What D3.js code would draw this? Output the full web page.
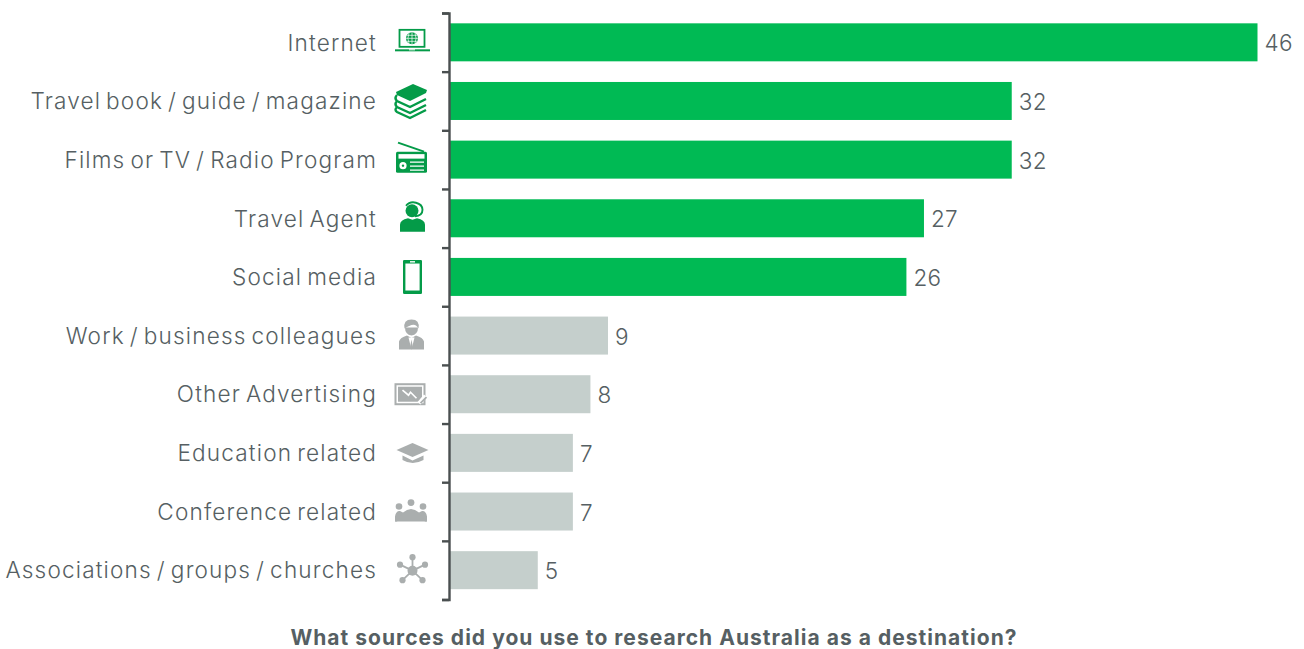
<!DOCTYPE html>
<html>
<head>
<meta charset="utf-8">
<script src="https://cdn.jsdelivr.net/npm/d3@7/dist/d3.min.js"></script>
<style>
  html, body { margin: 0; padding: 0; background: #fff; }
  svg { display: block; }
  text { font-family: Inter, "Noto Sans", sans-serif; }
</style>
</head>
<body>
<svg id="chart" width="1304" height="649"></svg>
<script>
// Survey responses, in the order they are ranked
const categories = [
  "Internet", "Travel book / guide / magazine", "Films or TV / Radio Program",
  "Travel Agent", "Social media", "Work / business colleagues",
  "Other Advertising", "Education related", "Conference related",
  "Associations / groups / churches"
];
const values = [46, 32, 32, 27, 26, 9, 8, 7, 7, 5];
const highlighted = [true, true, true, true, true, false, false, false, false, false];
const iconNames = ["laptop", "books", "radio", "agent", "phone", "suit", "billboard", "cap", "meeting", "network"];
const axisCaption = "What sources did you use to research Australia as a destination?";

const GREEN = "#00ba54", GREY = "#c5cfcc";
const ICON_GREEN = "#049b48", ICON_GREY = "#aaaeae", INK = "#565f63";

const svg = d3.select("#chart");
const x = d3.scaleLinear().domain([0, 46]).range([450, 1257.5]);
const y = d3.scaleBand().domain(categories).range([13, 599.5]).paddingInner(0.352).paddingOuter(0.176);

// Bars
svg.append("g").selectAll("rect").data(categories).join("rect")
  .attr("x", x(0))
  .attr("y", d => y(d))
  .attr("width", (d, i) => x(values[i]) - x(0))
  .attr("height", y.bandwidth())
  .attr("fill", (d, i) => highlighted[i] ? GREEN : GREY);

// Value labels
svg.append("g").selectAll("text").data(categories).join("text")
  .attr("x", (d, i) => x(values[i]) + 7)
  .attr("y", d => y(d) + y.bandwidth() / 2 + 1)
  .attr("dy", "0.36em")
  .attr("font-size", 22.5)
  .attr("font-weight", 300)
  .attr("letter-spacing", 0.3)
  .attr("fill", INK)
  .text((d, i) => values[i]);

// Category labels from the band axis; its ticks and line are hidden
const labelAxis = svg.append("g").attr("transform", "translate(449,1)")
  .call(d3.axisLeft(y).tickSize(0).tickPadding(72));
labelAxis.select(".domain").remove();
labelAxis.selectAll("text")
  .attr("font-size", 22.6)
  .attr("font-weight", 300)
  .attr("letter-spacing", 1.15)
  .attr("word-spacing", -2.5)
  .attr("fill", INK)
  .attr("font-family", "Inter, 'Noto Sans', sans-serif");

// Separator ticks sit on the band boundaries rather than the band centres
const boundary = d3.scaleLinear().domain([0, categories.length]).range([13, 599.5]);
const tickAxis = svg.append("g").attr("transform", "translate(449,0)")
  .call(d3.axisLeft(boundary).ticks(categories.length).tickSize(7).tickFormat(""));
tickAxis.select(".domain").attr("stroke", "#4a4f50").attr("stroke-width", 2.4);
tickAxis.selectAll("line").attr("stroke", "#4a4f50").attr("stroke-width", 2.4);

// Pictograms, each sketched in its own small box and placed on its row
const icons = {
  laptop(g, c) {
    g.append("rect").attr("x", 3.5).attr("y", 1.5).attr("width", 25).attr("height", 17)
      .attr("fill", "#fff").attr("stroke", c).attr("stroke-width", 1.8);
    g.append("circle").attr("cx", 16).attr("cy", 10).attr("r", 6).attr("fill", c);
    g.append("path").attr("d", "M10,10H22M16,4V16M13,5Q10.8,10 13,15M19,5Q21.2,10 19,15M11,7H21M11,13H21")
      .attr("fill", "none").attr("stroke", "#fff").attr("stroke-width", 0.7);
    g.append("rect").attr("x", -1).attr("y", 21).attr("width", 35).attr("height", 2).attr("fill", c);
    g.append("rect").attr("x", 13).attr("y", 21).attr("width", 6).attr("height", 1).attr("fill", "#fff");
  },
  books(g, c) {
    g.append("path").attr("d", "M1,8L18,0L32,6L31,9L15,17L2,11Z").attr("fill", c);
    g.append("path")
      .attr("d", "M2,11Q-1,14 2,17L15,23L31,15M2,17Q-1,20 2,23L15,29L31,21M2,23Q-1,26 2,28L15,34L31,26")
      .attr("fill", "none").attr("stroke", c).attr("stroke-width", 2.4);
  },
  radio(g, c) {
    g.append("path").attr("d", "M2,1L28,10").attr("stroke", c).attr("stroke-width", 2).attr("fill", "none");
    g.append("rect").attr("x", 0).attr("y", 10).attr("width", 31).attr("height", 21).attr("rx", 1.5).attr("fill", c);
    g.append("rect").attr("x", 2.5).attr("y", 12.5).attr("width", 26).attr("height", 4.5).attr("fill", "#fff");
    g.append("circle").attr("cx", 7).attr("cy", 24).attr("r", 3.6).attr("fill", "#fff");
    g.append("circle").attr("cx", 7).attr("cy", 24).attr("r", 1.2).attr("fill", c);
    g.append("path").attr("d", "M14,20.5H28M14,24.5H28M14,28.5H28").attr("stroke", "#fff").attr("stroke-width", 1.4);
  },
  agent(g, c) {
    g.append("circle").attr("cx", 12).attr("cy", 10).attr("r", 6.5).attr("fill", c);
    g.append("path").attr("d", "M6,5A9,7.5 0 0 1 22.5,9Q22.5,15 15,15.5").attr("fill", "none").attr("stroke", c).attr("stroke-width", 1.9);
    g.append("path").attr("d", "M0,31V24Q0,19 8,17.5L12.5,19L17,17.5Q25,19 25,24V31Z").attr("fill", c);
  },
  phone(g, c) {
    g.append("rect").attr("x", 1).attr("y", 0).attr("width", 19).attr("height", 34).attr("rx", 1.2).attr("fill", c);
    g.append("rect").attr("x", 3.4).attr("y", 3.6).attr("width", 14.2).attr("height", 27).attr("fill", "#fff");
    g.append("rect").attr("x", 8).attr("y", 1.2).attr("width", 5).attr("height", 1.4).attr("fill", "#fff");
  },
  suit(g, c) {
    g.append("path").attr("d", "M6,8Q6,15 12.5,16Q19,15 19,8Z").attr("fill", c);
    g.append("path").attr("d", "M5.5,9Q4,0 12.5,0Q21,0 19.5,9Q17,4 12.5,5.5Q8,7 5.5,9Z").attr("fill", c);
    g.append("path").attr("d", "M0,30V22Q1,18 8,16L12.5,18.5L17,16Q24,18 25,22V30Z").attr("fill", c);
    g.append("path").attr("d", "M9.5,18L12.5,30L15.5,18Z").attr("fill", "#fff");
    g.append("path").attr("d", "M12.5,20L10.9,28.5L12.5,30L14.1,28.5Z").attr("fill", c);
  },
  billboard(g, c) {
    g.append("rect").attr("x", 1).attr("y", 1).attr("width", 29).attr("height", 20).attr("fill", "#fff").attr("stroke", c).attr("stroke-width", 2);
    g.append("rect").attr("x", 3.5).attr("y", 3.5).attr("width", 24).attr("height", 15).attr("fill", c);
    g.append("path").attr("d", "M8,7L14,12L16,9L22,15").attr("fill", "none").attr("stroke", "#fff").attr("stroke-width", 1.6);
    g.append("path").attr("d", "M24.5,20L31,12.5").attr("stroke", "#fff").attr("stroke-width", 4);
    g.append("path").attr("d", "M26,20L32,14").attr("stroke", c).attr("stroke-width", 1.8);
  },
  cap(g, c) {
    g.append("path").attr("d", "M0,8L16,1L32,8L16,15Z").attr("fill", c);
    g.append("path").attr("d", "M6,13.5V18Q16,24 27,18V13.5L16,18.5Z").attr("fill", c);
  },
  meeting(g, c) {
    g.append("path").attr("d", "M0,22Q3,15 8,13Q16,6 24,13Q29,15 32,22Z").attr("fill", c);
    [[4, 7, 3.3], [16, 3, 3.4], [28, 7, 3.3]].forEach(([cx, cy, r]) =>
      g.append("circle").attr("cx", cx).attr("cy", cy).attr("r", r).attr("fill", c));
    g.append("path").attr("d", "M0,17Q1,11 5,11.5L8,13L2,22H0ZM32,17Q31,11 27,11.5L24,13L30,22H32Z").attr("fill", c);
  },
  network(g, c) {
    const hub = [15, 15];
    const spokes = [[15, 1.5], [2.5, 9], [27.5, 9], [5, 24.5], [25, 24.5]];
    spokes.forEach(([px, py]) => {
      g.append("line").attr("x1", hub[0]).attr("y1", hub[1]).attr("x2", px).attr("y2", py).attr("stroke", c).attr("stroke-width", 1.8);
      g.append("circle").attr("cx", px).attr("cy", py).attr("r", 3.1).attr("fill", c);
    });
    g.append("circle").attr("cx", hub[0]).attr("cy", hub[1]).attr("r", 5).attr("fill", c);
  }
};
// Where each pictogram's box starts, as a column and an offset from the row centre
const iconBox = {
  laptop: [396, -14], books: [395, -17], radio: [396, -18], agent: [400, -17.5], phone: [402, -17],
  suit: [399, -16], billboard: [394.5, -11], cap: [396.5, -11], meeting: [395, -12], network: [397.5, -14.5]
};
categories.forEach((d, i) => {
  const name = iconNames[i];
  const g = svg.append("g")
    .attr("transform", `translate(${iconBox[name][0]},${y(d) + y.bandwidth() / 2 + iconBox[name][1]})`);
  icons[name](g, highlighted[i] ? ICON_GREEN : ICON_GREY);
});

// Question caption under the axis
svg.append("text")
  .attr("x", 654).attr("y", 645)
  .attr("text-anchor", "middle")
  .attr("font-size", 21)
  .attr("font-weight", 700)
  .attr("letter-spacing", 1.03)
  .attr("fill", INK)
  .text(axisCaption);
</script>
</body>
</html>
